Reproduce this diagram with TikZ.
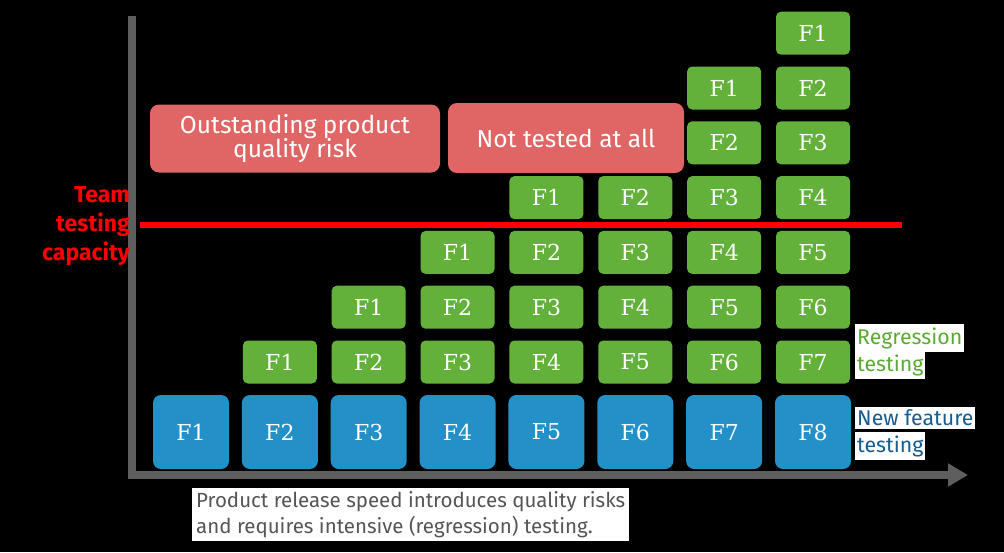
\documentclass[tikz,border=0pt]{standalone}
\usepackage{fontspec}
\setmainfont{Fira Sans}
\newfontfamily\slab{DejaVu Serif}
\usetikzlibrary{arrows.meta}
\definecolor{fgreen}{HTML}{63B13A}
\definecolor{fblue}{HTML}{2391C8}
\definecolor{riskred}{HTML}{E06666}
\definecolor{axisgrey}{HTML}{5E5E5E}
\definecolor{labgreen}{HTML}{5AAA34}
\definecolor{labblue}{HTML}{165C8E}
\definecolor{captiongrey}{HTML}{555555}
\tikzset{
  gbox/.style={fill=fgreen, rounded corners=5pt, minimum width=74pt, minimum height=43pt, inner sep=0pt, text=white, font=\slab\fontsize{22}{24}\selectfont},
  bbox/.style={fill=fblue, rounded corners=8pt, minimum width=76pt, minimum height=74pt, inner sep=0pt, text=white, font=\slab\fontsize{22}{24}\selectfont},
  riskbox/.style={fill=riskred, rounded corners=9pt, inner sep=0pt, text=white, align=center, font=\fontsize{24.5}{27}\selectfont},
  sidelab/.style={fill=white, anchor=west, inner xsep=2pt, inner ysep=3pt, font=\fontsize{21.3}{24}\selectfont},
  axisline/.style={draw=axisgrey, line width=8pt},
}
\begin{document}
\begin{tikzpicture}[x=1pt,y=-1pt]
\fill[black] (0,0) rectangle (1004,552);
\useasboundingbox (0,0) rectangle (1004,552);
% axes
\coordinate (origin) at (132,475);
\coordinate (ytop) at (132,16);
\coordinate (xend) at (968,475);
\draw[axisline] (origin) -- (ytop);
\draw[axisline, -{Triangle[length=20pt,width=22pt]}] ([xshift=-4pt]origin) -- (xend);
% blue boxes
\foreach \i in {1,...,8}{
  \node[bbox] (b\i) at ({191+(\i-1)*88.86},432) {F\i};
}
% green boxes
\foreach \c in {2,...,8}{
  \pgfmathtruncatemacro{\n}{\c-1}
  \foreach \k in {1,...,\n}{
    \pgfmathtruncatemacro{\lab}{\c-\k}
    \node[gbox] (g\c-\k) at ({191+(\c-1)*88.86},{362-(\k-1)*54.8}) {F\lab};
  }
}
% risk boxes
\node[riskbox, minimum width=290pt, minimum height=68pt] (risk) at (295,138.5) {Outstanding product\\[-3pt]quality risk};
\node[riskbox, minimum width=236pt, minimum height=70pt] (nottested) at (566,138) {Not tested at all};
% capacity line
\coordinate (capL) at (140,225);
\coordinate (capR) at (902,225);
\draw[red, line width=6pt] (capL) -- (capR);
\node[anchor=east, text=red, align=right, font=\bfseries\fontsize{23}{29}\selectfont, inner sep=0pt] (cap) at (130,226) {Team\\testing\\capacity};
% side labels
\node[sidelab, text=labgreen] (reg1) at (855,338) {Regression};
\node[sidelab, text=labgreen] (reg2) at (855,365) {testing};
\node[sidelab, text=labblue] (new1) at (855,418) {New feature};
\node[sidelab, text=labblue] (new2) at (855,446) {testing};
% caption
\node[fill=white, anchor=north west, align=left, text=captiongrey, inner xsep=4pt, inner ysep=3pt, font=\fontsize{20.5}{26}\selectfont] (caption) at (192,488) {Product release speed introduces quality risks\\and requires intensive (regression) testing.};
\end{tikzpicture}
\end{document}
